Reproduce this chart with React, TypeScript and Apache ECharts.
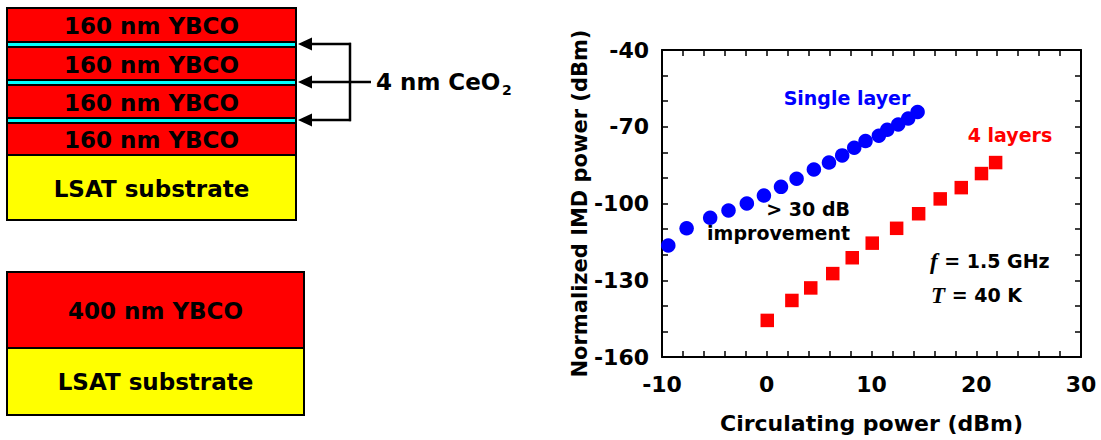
import React, { useEffect, useRef } from "react";
import * as echarts from "echarts";

const singleLayerX = [-9.4, -7.65, -5.4, -3.65, -1.9, -0.27, 1.36, 2.85, 4.5, 5.94, 7.2, 8.35, 9.43, 10.7, 11.5, 12.55, 13.5, 14.4];
const singleLayerY = [-116.4, -109.7, -105.6, -102.7, -100, -96.9, -93.5, -90.3, -86.7, -84, -81.2, -78.2, -75.6, -73.5, -71.2, -69.1, -66.8, -64.2];
const fourLayerX = [0.05, 2.4, 4.2, 6.3, 8.16, 10.07, 12.4, 14.5, 16.56, 18.57, 20.5, 21.85];
const fourLayerY = [-145.7, -137.9, -133, -127.4, -121.2, -115.5, -109.7, -104, -98.2, -93.8, -88.3, -84];

const xTitle = "Circulating power (dBm)";
const yTitle = "Normalized IMD power (dBm)";
const stackLabels = ["160 nm YBCO", "160 nm YBCO", "160 nm YBCO", "160 nm YBCO", "LSAT substrate"];
const singleLabels = ["400 nm YBCO", "LSAT substrate"];

const FONT = "DejaVu Sans";

export default function App() {
  const ref = useRef<HTMLDivElement>(null);
  useEffect(() => {
    if (!ref.current) return;
    const chart = echarts.init(ref.current, null, { renderer: "svg" });

    const txt = (x: number, y: number, text: string, opts: any = {}) => ({
      type: "text",
      x,
      y,
      style: {
        text,
        fill: opts.fill || "#000",
        font: `bold ${opts.size || 23}px "${FONT}"`,
        textAlign: opts.align || "center",
        textVerticalAlign: "middle",
        rich: opts.rich,
      },
      z: 100,
    });

    // left diagram
    const L = 7, R = 296;
    const layers = [
      { y0: 8, y1: 42, c: "#FF0000" },
      { y0: 42, y1: 47, c: "#00FFFF" },
      { y0: 47, y1: 80, c: "#FF0000" },
      { y0: 80, y1: 85, c: "#00FFFF" },
      { y0: 85, y1: 118, c: "#FF0000" },
      { y0: 118, y1: 123, c: "#00FFFF" },
      { y0: 123, y1: 155, c: "#FF0000" },
      { y0: 155, y1: 220, c: "#FFFF00" },
    ];
    const diagram: any[] = [];
    layers.forEach((l) => {
      diagram.push({
        type: "rect",
        shape: { x: L, y: l.y0, width: R - L, height: l.y1 - l.y0 },
        style: { fill: l.c, stroke: "#000", lineWidth: 2 },
      });
    });
    const textLayers = layers.filter((l) => l.c !== "#00FFFF");
    textLayers.forEach((l, i) => {
      diagram.push(txt((L + R) / 2, (l.y0 + l.y1) / 2 + 1, stackLabels[i]));
    });
    // arrows
    const arrowYs = [44, 82, 120];
    arrowYs.forEach((y) => {
      diagram.push({
        type: "line",
        shape: { x1: 310, y1: y, x2: 351, y2: y },
        style: { stroke: "#000", lineWidth: 2.5 },
      });
      diagram.push({
        type: "polygon",
        shape: { points: [[298, y], [312, y - 6.5], [312, y + 6.5]] },
        style: { fill: "#000" },
      });
    });
    diagram.push({
      type: "line",
      shape: { x1: 350, y1: 42.8, x2: 350, y2: 121.2 },
      style: { stroke: "#000", lineWidth: 2.5 },
    });
    diagram.push({
      type: "line",
      shape: { x1: 350, y1: 82, x2: 371, y2: 82 },
      style: { stroke: "#000", lineWidth: 2.5 },
    });
    diagram.push(txt(376, 82, "4 nm CeO", { align: "left" }));
    diagram.push(txt(502, 90, "2", { align: "left", size: 14 }));

    // bottom box
    const L2 = 7, R2 = 304;
    diagram.push({
      type: "rect",
      shape: { x: L2, y: 272, width: R2 - L2, height: 76 },
      style: { fill: "#FF0000", stroke: "#000", lineWidth: 2 },
    });
    diagram.push({
      type: "rect",
      shape: { x: L2, y: 348, width: R2 - L2, height: 67 },
      style: { fill: "#FFFF00", stroke: "#000", lineWidth: 2 },
    });
    diagram.push(txt((L2 + R2) / 2, 311, singleLabels[0]));
    diagram.push(txt((L2 + R2) / 2, 382, singleLabels[1]));

    // annotations in chart
    diagram.push(txt(847, 98, "Single layer", { size: 19, fill: "#0000FF" }));
    diagram.push(txt(1010, 135, "4 layers", { size: 19, fill: "#FF0000" }));
    diagram.push(txt(850, 209, "> 30 dB", { size: 19, align: "right" }));
    diagram.push(txt(850, 233, "improvement", { size: 19, align: "right" }));
    const rich = {
      i: { fontFamily: "Liberation Serif", fontStyle: "italic", fontWeight: "bold", fontSize: 23 },
    };
    diagram.push(txt(930, 261, "{i|f} = 1.5 GHz", { size: 19, align: "left", rich }));
    diagram.push(txt(931, 295, "{i|T} = 40 K", { size: 19, align: "left", rich }));

    const axisCommon = {
      type: "value",
      axisLine: { show: true, onZero: false, lineStyle: { color: "#000", width: 2 } },
      axisTick: { show: true, inside: true, length: 6, lineStyle: { color: "#000", width: 1.5 } },
      minorTick: { show: true, length: 6, lineStyle: { color: "#000", width: 1.5 } },
      splitLine: { show: false },
      axisLabel: { color: "#000", fontFamily: FONT, fontWeight: "bold", fontSize: 22 },
    };

    chart.setOption({
      animation: false,
      backgroundColor: "#fff",
      grid: { left: 662, right: 20, top: 50, bottom: 83, containLabel: false },
      xAxis: [
        {
          ...axisCommon,
          position: "bottom",
          min: -10,
          max: 30,
          interval: 10,
          minorTick: { ...axisCommon.minorTick, splitNumber: 5 },
          axisLabel: { ...axisCommon.axisLabel, margin: 16 },
          name: xTitle,
          nameLocation: "middle",
          nameGap: 55,
          nameTextStyle: { color: "#000", fontFamily: FONT, fontWeight: "bold", fontSize: 22 },
        },
        {
          ...axisCommon,
          position: "top",
          min: -10,
          max: 30,
          interval: 10,
          minorTick: { ...axisCommon.minorTick, splitNumber: 5 },
          axisLabel: { show: false },
        },
      ],
      yAxis: [
        {
          ...axisCommon,
          position: "left",
          min: -160,
          max: -40,
          interval: 30,
          minorTick: { ...axisCommon.minorTick, splitNumber: 3 },
          axisLabel: { ...axisCommon.axisLabel, margin: 13 },
          name: yTitle,
          nameLocation: "middle",
          nameGap: 50,
          nameTextStyle: { color: "#000", fontFamily: FONT, fontWeight: "bold", fontSize: 21 },
        },
        {
          ...axisCommon,
          position: "right",
          min: -160,
          max: -40,
          interval: 30,
          minorTick: { ...axisCommon.minorTick, splitNumber: 3 },
          axisLabel: { show: false },
        },
      ],
      series: [
        {
          type: "scatter",
          name: "Single layer",
          symbol: "circle",
          symbolSize: 14.5,
          itemStyle: { color: "#0000FF", opacity: 1 },
          data: singleLayerX.map((x, i) => [x, singleLayerY[i]]),
        },
        {
          type: "scatter",
          name: "4 layers",
          symbol: "rect",
          symbolSize: 13.5,
          itemStyle: { color: "#FF0000", opacity: 1 },
          data: fourLayerX.map((x, i) => [x, fourLayerY[i]]),
        },
      ],
      graphic: diagram,
    });

    return () => chart.dispose();
  }, []);

  return (
    <div
      ref={ref}
      style={{ position: "absolute", left: 0, top: 0, width: 1101, height: 440 }}
    />
  );
}
